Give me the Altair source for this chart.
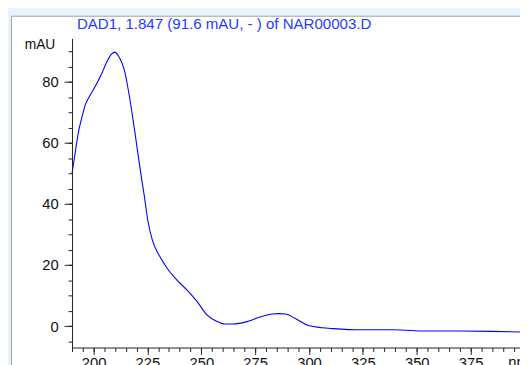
import altair as alt
import pandas as pd

# ---- data ----
wavelength = [190, 191.6, 193.1, 194.7, 196.2, 198.5, 201.5, 203.8, 206.1, 208.4,
              209.9, 211.4, 214.5, 216.0, 217.5, 219.1, 220.6, 222.4, 223.6, 225.1,
              227.4, 230.5, 234.3, 238.8, 243.4, 248.0, 252.6, 257.1, 260.9, 264.8,
              270.8, 276.9, 283.0, 286.0, 289.1, 293.7, 299.8, 305.9, 311.2, 324.3,
              339.4, 354.5, 370.0, 385.1, 397.9]
absorbance = [49.9, 57.4, 63.9, 68.7, 72.5, 75.7, 79.4, 82.7, 86.4, 89.1,
              89.7, 88.6, 83.2, 77.8, 71.4, 63.9, 56.4, 47.8, 42.4, 34.9,
              27.9, 23.1, 18.8, 15.0, 11.8, 8.1, 3.7, 1.6, 0.7, 0.7,
              1.4, 2.9, 4.0, 4.1, 4.0, 2.5, 0.2, -0.5, -0.8, -1.2,
              -1.2, -1.6, -1.6, -1.7, -1.9]
x_major = [200, 225, 250, 275, 300, 325, 350, 375]
x_minor = list(range(190, 400, 5))
y_major = [0, 20, 40, 60, 80]
y_minor = list(range(-5, 95, 5))
title_text = ["DAD1, 1.847 (91.6 mAU, - ) of NAR00003.D"]
y_unit = ["mAU"]
x_unit = ["nm"]

df = pd.DataFrame({"nm": wavelength, "mAU": absorbance})

font = "Liberation Sans"
xs = alt.Scale(domain=[190, 397.9], nice=False, zero=False)
ys = alt.Scale(domain=[-7, 94.2], nice=False, zero=False)

common = dict(grid=False, domainColor="#222222", tickColor="#222222",
              labelColor="#111111", labelFont=font, labelFontSize=15,
              zindex=1, title=None)

panel = alt.Chart(pd.DataFrame({"a": [0]})).mark_rect(
    fill="white", stroke="#a0a0a0", strokeWidth=1
).encode(x=alt.value(-61.5), x2=alt.value(700), y=alt.value(-22.5), y2=alt.value(500))

minor = alt.Chart(df).mark_line(opacity=0).encode(
    x=alt.X("nm:Q", scale=xs,
            axis=alt.Axis(values=x_minor, tickSize=4, labels=False, domain=False,
                          orient="bottom", **common)),
    y=alt.Y("mAU:Q", scale=ys,
            axis=alt.Axis(values=y_minor, tickSize=4, labels=False, domain=False,
                          orient="left", **common)),
)

line = alt.Chart(df).mark_line(color="#0000ff", strokeWidth=1.1, interpolate="monotone").encode(
    x=alt.X("nm:Q", scale=xs,
            axis=alt.Axis(values=x_major, tickSize=7, labelPadding=1, orient="bottom",
                          labelFlush=False, **common)),
    y=alt.Y("mAU:Q", scale=ys,
            axis=alt.Axis(values=y_major, tickSize=8, labelPadding=6, orient="left", **common)),
)

title = alt.Chart(pd.DataFrame({"t": title_text})).mark_text(
    align="left", baseline="alphabetic", font=font, fontSize=15.3, color="#1f3cff"
).encode(x=alt.value(5), y=alt.value(-10), text="t:N")

yu = alt.Chart(pd.DataFrame({"t": y_unit})).mark_text(
    align="right", baseline="alphabetic", font=font, fontSize=14, color="#111111"
).encode(x=alt.value(-17), y=alt.value(11), text="t:N")

xu = alt.Chart(pd.DataFrame({"t": x_unit})).mark_text(
    align="left", baseline="top", font=font, fontSize=15, color="#111111"
).encode(x=alt.value(443), y=alt.value(322), text="t:N")

chart = alt.layer(panel, minor, line, title, yu, xu).resolve_axis(
    x="independent", y="independent"
).properties(
    width=455, height=314,
    padding={"left": 65, "top": 28, "right": 0, "bottom": 22},
    autosize=alt.AutoSizeParams(type="none"),
    background="#e8f4fc",
).configure_view(strokeWidth=0)

chart.save("out.html", embed_options={"renderer": "svg", "actions": False})
